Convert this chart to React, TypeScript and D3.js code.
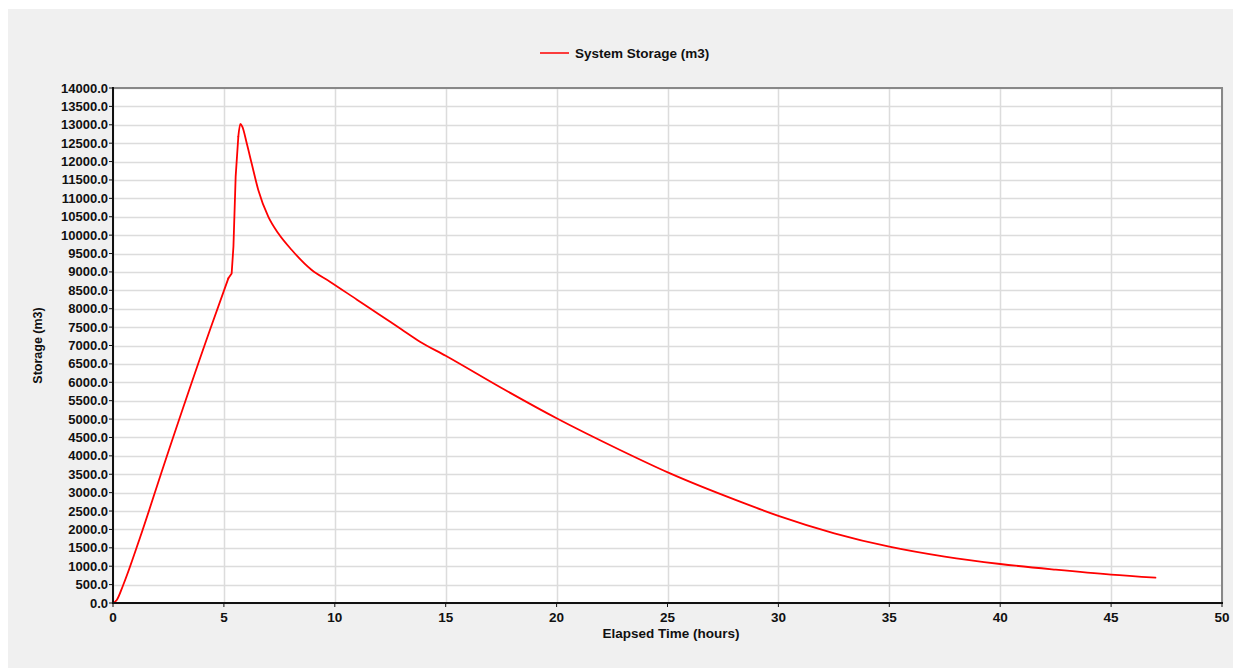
import * as d3 from 'd3';

// elapsed time (hours) and system storage (m3)
const hours = [
  0, 0.17, 0.46, 1.22, 2.27, 4.37, 5.2, 5.35, 5.43, 5.53, 5.65, 5.74, 5.83,
  6.03, 6.25, 6.55, 7.0, 7.45, 8.06, 8.96, 9.78, 11.0, 12.0, 13.0, 13.84, 15.0, 17.5,
  20.0, 22.86, 25.04, 28.27, 30.0, 32.52, 35.0, 37.5, 40.0, 42.5, 45.0, 47.0,
];
const storage = [
  0, 82, 490, 1780, 3706, 7421, 8825, 8960, 9690, 11590, 12676, 13021, 12950,
  12497, 11953, 11227, 10502, 10050, 9596, 9052, 8735, 8245, 7845, 7440, 7103, 6720,
  5850, 5021, 4159, 3543, 2755, 2370, 1895, 1531, 1260, 1060, 905, 770, 688,
];

const xTicks = [0, 5, 10, 15, 20, 25, 30, 35, 40, 45, 50];
const yTicks = d3.range(0, 14001, 500);

const seriesName = 'System Storage (m3)';
const xTitle = 'Elapsed Time (hours)';
const yTitle = 'Storage (m3)';

const W = 1233;
const H = 668;
const plot = { left: 113, top: 88, right: 1222, bottom: 603 };
const font = '"Liberation Sans", Arial, sans-serif';

export default function App() {
  const x = d3.scaleLinear().domain([0, 50]).range([plot.left, plot.right]);
  const y = d3.scaleLinear().domain([0, 14000]).range([plot.bottom, plot.top]);

  const points = hours.map((h, i) => [h, storage[i]] as [number, number]);
  const smooth = d3
    .line<[number, number]>()
    .x(d => x(d[0]))
    .y(d => y(d[1]))
    .curve(d3.curveMonotoneX);
  const straight = d3
    .line<[number, number]>()
    .x(d => x(d[0]))
    .y(d => y(d[1]));

  // rise: smooth, the jump before the peak: straight, recession: smooth
  const rise = points.filter(p => p[0] <= 5.2);
  const jump = points.filter(p => p[0] >= 5.2 && p[0] <= 5.65);
  const fall = points.filter(p => p[0] >= 5.65);

  return (
    <svg
      width={W}
      height={H}
      style={{ position: 'absolute', left: 0, top: 0, display: 'block' }}
      fontFamily={font}
    >
      <rect x={0} y={0} width={W} height={H} fill="#ffffff" />
      <rect x={8} y={9} width={W - 8} height={H - 9} fill="#f0f0f0" />

      {/* legend */}
      <line x1={540} x2={569} y1={53} y2={53} stroke="#ff0000" strokeWidth={1.5} />
      <text x={575} y={57.5} fontSize={13.5} fontWeight="bold" fill="#111">
        {seriesName}
      </text>

      {/* plot area */}
      <rect
        x={plot.left}
        y={plot.top}
        width={plot.right - plot.left}
        height={plot.bottom - plot.top}
        fill="#ffffff"
      />

      {/* grid */}
      {yTicks.map(v => (
        <line
          key={'gy' + v}
          x1={plot.left}
          x2={plot.right}
          y1={Math.round(y(v)) + 0.5}
          y2={Math.round(y(v)) + 0.5}
          stroke="#dcdcdc"
          strokeWidth={1.5}
        />
      ))}
      {xTicks.map(t => (
        <line
          key={'gx' + t}
          x1={Math.round(x(t)) + 0.5}
          x2={Math.round(x(t)) + 0.5}
          y1={plot.top}
          y2={plot.bottom}
          stroke="#dcdcdc"
          strokeWidth={1.5}
        />
      ))}

      {/* frame: top/right gray, left/bottom black */}
      <line x1={plot.left} x2={plot.right + 1} y1={plot.top} y2={plot.top} stroke="#888" strokeWidth={2} />
      <line x1={plot.right} x2={plot.right} y1={plot.top} y2={plot.bottom} stroke="#888" strokeWidth={2} />

      {/* series */}
      <g fill="none" stroke="#ff0000" strokeWidth={1.8} strokeLinejoin="round" strokeLinecap="round">
        <path d={smooth(rise) ?? ''} />
        <path d={straight(jump) ?? ''} />
        <path d={smooth(fall) ?? ''} />
      </g>

      <line x1={plot.left} x2={plot.left} y1={plot.top - 1} y2={plot.bottom + 1} stroke="#111" strokeWidth={2} />
      <line x1={plot.left - 1} x2={plot.right + 1} y1={plot.bottom} y2={plot.bottom} stroke="#111" strokeWidth={2} />

      {/* y ticks */}
      {yTicks.map(v => (
        <g key={'ty' + v}>
          <line x1={plot.left - 4} x2={plot.left} y1={y(v)} y2={y(v)} stroke="#111" strokeWidth={1} />
          <text
            x={plot.left - 5}
            y={y(v) + 4.5}
            textAnchor="end"
            fontSize={13}
            fontWeight="bold"
            fill="#111"
          >
            {v.toFixed(1)}
          </text>
        </g>
      ))}

      {/* x ticks */}
      {xTicks.map(t => (
        <g key={'tx' + t}>
          <line x1={x(t)} x2={x(t)} y1={plot.bottom} y2={plot.bottom + 4} stroke="#111" strokeWidth={1} />
          <text x={x(t)} y={622} textAnchor="middle" fontSize={13.5} fontWeight="bold" fill="#111">
            {t}
          </text>
        </g>
      ))}

      <text x={671} y={638} textAnchor="middle" fontSize={13.5} fontWeight="bold" fill="#111">
        {xTitle}
      </text>
      <text
        transform={`translate(42, ${(plot.top + plot.bottom) / 2}) rotate(-90)`}
        textAnchor="middle"
        fontSize={12.5}
        fontWeight="bold"
        fill="#111"
      >
        {yTitle}
      </text>
    </svg>
  );
}
